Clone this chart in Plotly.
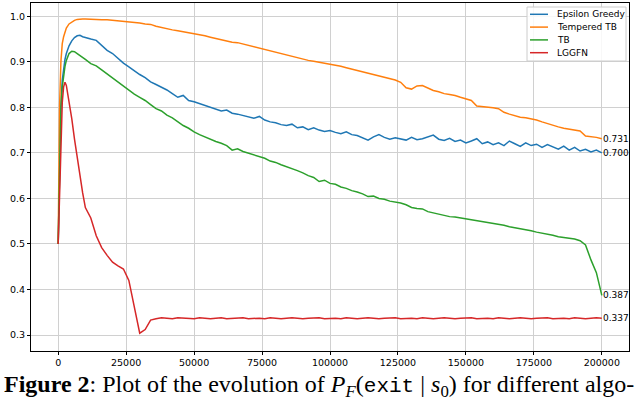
import plotly.graph_objects as go

# training steps (dense at the start where the curves rise)
steps = [0, 500, 1000, 1500, 2000, 2500, 3000, 4000, 5000, 6000, 7000, 8000, 9000, 10000] + list(range(12000, 200001, 2000))

epsilon_greedy = [
    0.500, 0.700, 0.800, 0.860, 0.890, 0.905, 0.918, 0.935, 0.946, 0.953, 0.957, 0.958, 0.955, 0.953,
    0.950, 0.947, 0.935, 0.925, 0.918, 0.907, 0.897, 0.889, 0.880, 0.872, 0.865, 0.856, 0.850, 0.844,
    0.838, 0.830, 0.822, 0.826, 0.815, 0.812, 0.808, 0.805, 0.801, 0.797, 0.792, 0.794, 0.787, 0.785,
    0.782, 0.779, 0.776, 0.780, 0.772, 0.768, 0.766, 0.762, 0.760, 0.763, 0.755, 0.757, 0.751, 0.755,
    0.750, 0.747, 0.749, 0.745, 0.742, 0.746, 0.740, 0.738, 0.733, 0.728, 0.735, 0.740, 0.734, 0.730,
    0.733, 0.731, 0.728, 0.734, 0.729, 0.731, 0.735, 0.739, 0.730, 0.727, 0.732, 0.725, 0.728, 0.722,
    0.726, 0.731, 0.720, 0.724, 0.718, 0.722, 0.716, 0.726, 0.720, 0.714, 0.722, 0.716, 0.719, 0.712,
    0.718, 0.713, 0.708, 0.715, 0.706, 0.712, 0.704, 0.708, 0.702, 0.706, 0.700,
]

tempered_tb = [
    0.500, 0.800, 0.900, 0.940, 0.955, 0.966, 0.974, 0.983, 0.988, 0.991, 0.993, 0.994, 0.994, 0.994,
    0.993, 0.993, 0.992, 0.992, 0.991, 0.990, 0.989, 0.987, 0.986, 0.985, 0.983, 0.982, 0.978, 0.975,
    0.972, 0.970, 0.968, 0.966, 0.964, 0.962, 0.959, 0.957, 0.954, 0.951, 0.948, 0.946, 0.943, 0.942,
    0.939, 0.936, 0.933, 0.930, 0.927, 0.924, 0.920, 0.917, 0.915, 0.912, 0.909, 0.906, 0.903, 0.901,
    0.899, 0.897, 0.895, 0.893, 0.890, 0.887, 0.884, 0.881, 0.878, 0.874, 0.872, 0.869, 0.866, 0.863,
    0.860, 0.855, 0.843, 0.840, 0.847, 0.848, 0.842, 0.837, 0.834, 0.830, 0.828, 0.826, 0.822, 0.819,
    0.815, 0.803, 0.802, 0.800, 0.799, 0.797, 0.789, 0.785, 0.781, 0.778, 0.777, 0.775, 0.772, 0.768,
    0.764, 0.760, 0.757, 0.754, 0.752, 0.750, 0.748, 0.737, 0.736, 0.734, 0.731,
]

tb = [
    0.500, 0.700, 0.800, 0.845, 0.870, 0.890, 0.903, 0.918, 0.923, 0.922, 0.918, 0.913, 0.909, 0.905,
    0.896, 0.891, 0.882, 0.873, 0.866, 0.857, 0.846, 0.838, 0.829, 0.822, 0.815, 0.806, 0.797, 0.792,
    0.783, 0.777, 0.768, 0.760, 0.754, 0.746, 0.740, 0.735, 0.729, 0.725, 0.721, 0.716, 0.706, 0.709,
    0.703, 0.699, 0.695, 0.692, 0.688, 0.682, 0.679, 0.674, 0.670, 0.665, 0.661, 0.656, 0.650, 0.646,
    0.637, 0.640, 0.633, 0.631, 0.625, 0.622, 0.617, 0.614, 0.610, 0.604, 0.605, 0.600, 0.598, 0.594,
    0.592, 0.590, 0.586, 0.580, 0.578, 0.577, 0.571, 0.568, 0.566, 0.562, 0.560, 0.559, 0.557, 0.556,
    0.553, 0.551, 0.549, 0.548, 0.545, 0.543, 0.541, 0.538, 0.536, 0.534, 0.531, 0.529, 0.526, 0.524,
    0.522, 0.519, 0.516, 0.514, 0.512, 0.511, 0.507, 0.498, 0.465, 0.437, 0.387,
]

lggfn = [
    0.500, 0.620, 0.740, 0.810, 0.845, 0.855, 0.848, 0.815, 0.775, 0.730, 0.690, 0.645, 0.612, 0.580,
    0.557, 0.518, 0.492, 0.475, 0.460, 0.452, 0.445, 0.420, 0.365, 0.304, 0.312, 0.333, 0.336, 0.338,
    0.337, 0.336, 0.338, 0.337, 0.337, 0.336, 0.338, 0.337, 0.336, 0.337, 0.338, 0.336, 0.337, 0.337,
    0.338, 0.336, 0.337, 0.337, 0.336, 0.338, 0.337, 0.336, 0.337, 0.338, 0.337, 0.336, 0.337, 0.337,
    0.338, 0.336, 0.337, 0.337, 0.336, 0.338, 0.337, 0.336, 0.337, 0.338, 0.337, 0.336, 0.337, 0.337,
    0.338, 0.336, 0.337, 0.337, 0.336, 0.338, 0.337, 0.336, 0.337, 0.338, 0.337, 0.336, 0.337, 0.337,
    0.338, 0.336, 0.337, 0.337, 0.336, 0.338, 0.337, 0.336, 0.337, 0.338, 0.337, 0.336, 0.337, 0.337,
    0.338, 0.336, 0.337, 0.337, 0.336, 0.338, 0.337, 0.336, 0.337, 0.338, 0.337,
]

names = ["Epsilon Greedy", "Tempered TB", "TB", "LGGFN"]
colors = ["#1f77b4", "#ff7f0e", "#2ca02c", "#d62728"]
x_ticks = list(range(0, 200001, 25000))
y_ticks = [0.3, 0.4, 0.5, 0.6, 0.7, 0.8, 0.9, 1.0]

W, H = 640, 398
L, R, T, B = 31, 11, 3, 47
PW, PH = W - L - R, H - T - B


def paper(px, py):
    # pixel position in the figure -> paper coordinates
    return (px - L) / PW, (H - B - py) / PH


tick_font = dict(family="DejaVu Sans", size=9.5, color="black")
small_font = dict(family="DejaVu Sans", size=9, color="black")

fig = go.Figure()
for name, ys, c in zip(names, [epsilon_greedy, tempered_tb, tb, lggfn], colors):
    fig.add_trace(go.Scatter(x=steps, y=ys, mode="lines", name=name,
                             line=dict(color=c, width=1.5)))
    # final value next to the end of each curve
    fig.add_annotation(x=steps[-1], y=ys[-1], text=f"{ys[-1]:.3f}", showarrow=False,
                       xanchor="left", yanchor="middle", xshift=-1, font=small_font)

# legend drawn by hand so the rows are as tight as matplotlib's
x0, y0 = paper(527, 7)
x1, y1 = paper(626, 61)
fig.add_shape(type="rect", xref="paper", yref="paper", x0=x0, y0=y0, x1=x1, y1=y1,
              line=dict(color="#cccccc", width=1), fillcolor="rgba(255,255,255,0.85)")
for i, (name, c) in enumerate(zip(names, colors)):
    yc = 14.3 + i * 12.8
    lx0, ly = paper(530, yc)
    lx1, _ = paper(548, yc)
    tx, _ = paper(555, yc)
    fig.add_shape(type="line", xref="paper", yref="paper", x0=lx0, x1=lx1, y0=ly, y1=ly,
                  line=dict(color=c, width=1.5))
    fig.add_annotation(xref="paper", yref="paper", x=tx, y=ly, text=name, showarrow=False,
                       xanchor="left", yanchor="middle", font=small_font)

cx, cy = paper(2, 386)
fig.add_annotation(
    xref="paper", yref="paper", x=cx, y=cy, xanchor="left", yanchor="middle",
    showarrow=False,
    text="<b>Figure 2</b>: Plot of the evolution of <i>P</i><sub><i>F</i></sub>"
         "(<span style='font-family:Liberation Mono;font-size:21px'>exit</span> | <i>s</i><sub>0</sub>)"
         " for different algo-",
    font=dict(family="Liberation Serif", size=24, color="black"),
)

fig.update_layout(
    width=W, height=H,
    margin=dict(l=L, r=R, t=T, b=B),
    plot_bgcolor="white", paper_bgcolor="white",
    showlegend=False,
    xaxis=dict(range=[-10000, 210000], tickvals=x_ticks, tickformat="d",
               showgrid=True, gridcolor="#d0d0d0", gridwidth=1,
               showline=True, linecolor="black", linewidth=1, mirror=True,
               ticks="outside", ticklen=3, tickcolor="black", tickfont=tick_font,
               zeroline=False),
    yaxis=dict(range=[0.265, 1.029], tickvals=y_ticks, tickformat=".1f",
               showgrid=True, gridcolor="#d0d0d0", gridwidth=1,
               showline=True, linecolor="black", linewidth=1, mirror=True,
               ticks="outside", ticklen=3, tickcolor="black", tickfont=tick_font,
               zeroline=False),
)

fig.write_html("out.html", config={"displayModeBar": False},
               post_script="document.body.style.margin='0';")
